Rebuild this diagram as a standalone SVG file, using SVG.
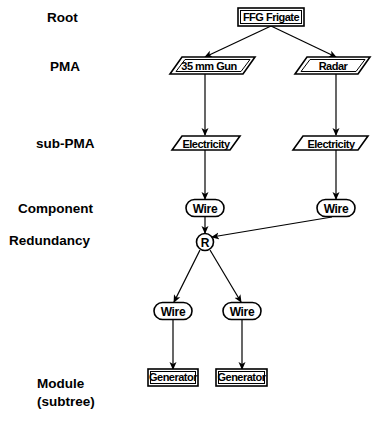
<svg xmlns="http://www.w3.org/2000/svg" width="387" height="421" viewBox="0 0 387 421">
<style>
.lbl{font-family:"Liberation Sans",Arial,sans-serif;font-weight:bold;font-size:13.5px;fill:#000}
.nt{font-family:"Liberation Sans",Arial,sans-serif;font-weight:bold;font-size:11px;fill:#000;text-anchor:middle;letter-spacing:-0.5px}
.big{font-size:12px;letter-spacing:-0.3px}
.sh{fill:#fff;stroke:#000;stroke-width:1.6}
.in{fill:none;stroke:#000;stroke-width:1}
.ln{fill:none;stroke:#000;stroke-width:1.2}
</style>
<defs>
<marker id="ah" markerWidth="8" markerHeight="8" refX="7" refY="4" orient="auto" markerUnits="userSpaceOnUse">
<path d="M0,0.5 L8,4 L0,7.5 L2,4 Z" fill="#000"/>
</marker>
</defs>
<rect width="387" height="421" fill="#fff"/>
<g id="levels">
<text class="lbl" x="47" y="22">Root</text>
<text class="lbl" x="50" y="71">PMA</text>
<text class="lbl" x="36" y="148">sub-PMA</text>
<text class="lbl" x="18" y="213">Component</text>
<text class="lbl" x="9" y="245">Redundancy</text>
<text class="lbl" x="37" y="388">Module</text>
<text class="lbl" x="37" y="406">(subtree)</text>
</g>
<g id="connectors">
<line class="ln" x1="271" y1="26" x2="205" y2="57" marker-end="url(#ah)"/>
<line class="ln" x1="271" y1="26" x2="336" y2="57" marker-end="url(#ah)"/>
<line class="ln" x1="205" y1="74" x2="205" y2="135" marker-end="url(#ah)"/>
<line class="ln" x1="336" y1="74" x2="336" y2="135" marker-end="url(#ah)"/>
<line class="ln" x1="205" y1="150" x2="205" y2="199" marker-end="url(#ah)"/>
<line class="ln" x1="336" y1="150" x2="336" y2="199" marker-end="url(#ah)"/>
<line class="ln" x1="205" y1="217" x2="205" y2="233" marker-end="url(#ah)"/>
<line class="ln" x1="332" y1="217" x2="212" y2="237" marker-end="url(#ah)"/>
<line class="ln" x1="200" y1="250" x2="174" y2="302" marker-end="url(#ah)"/>
<line class="ln" x1="210" y1="250" x2="241" y2="302" marker-end="url(#ah)"/>
<line class="ln" x1="173" y1="320" x2="173" y2="369" marker-end="url(#ah)"/>
<line class="ln" x1="242" y1="320" x2="242" y2="369" marker-end="url(#ah)"/>
</g>
<g id="root">
<rect class="sh" x="238" y="8" width="66" height="18"/>
<rect class="in" x="240.5" y="10.5" width="61" height="13"/>
<text class="nt" x="271" y="21">FFG Frigate</text>
</g>
<g id="pma-gun">
<polygon class="sh" points="182,57 255,57 243,74 170,74"/>
<polygon class="in" points="185,59.5 250,59.5 241,71.5 176,71.5"/>
<text class="nt" x="209" y="69.5">35 mm Gun</text>
</g>
<g id="pma-radar">
<polygon class="sh" points="307,57 370,57 358,74 295,74"/>
<polygon class="in" points="310,59.5 365,59.5 356,71.5 301,71.5"/>
<text class="nt" x="333" y="69.5">Radar</text>
</g>
<g id="sub-left">
<polygon class="sh" points="182,136 240,136 230,150 172,150"/>
<text class="nt" x="206" y="147.5">Electricity</text>
</g>
<g id="sub-right">
<polygon class="sh" points="303,136 368,136 358,150 293,150"/>
<text class="nt" x="331" y="147.5">Electricity</text>
</g>
<g id="wire-left">
<rect class="sh" x="186" y="199.5" width="38" height="17" rx="8.5"/>
<text class="nt big" x="205" y="212.5">Wire</text>
</g>
<g id="wire-right">
<rect class="sh" x="317" y="199.5" width="38" height="17" rx="8.5"/>
<text class="nt big" x="336" y="212.5">Wire</text>
</g>
<g id="redundancy">
<circle class="sh" cx="205" cy="242" r="8.5"/>
<text class="nt big" x="205" y="246.5">R</text>
</g>
<g id="wire-a">
<rect class="sh" x="154" y="302.5" width="38" height="17" rx="8.5"/>
<text class="nt big" x="173" y="315.5">Wire</text>
</g>
<g id="wire-b">
<rect class="sh" x="223" y="302.5" width="38" height="17" rx="8.5"/>
<text class="nt big" x="242" y="315.5">Wire</text>
</g>
<g id="gen-a">
<rect class="sh" x="148" y="369" width="50" height="17"/>
<rect class="in" x="150.5" y="371.5" width="45" height="12"/>
<text class="nt" x="173" y="381">Generator</text>
</g>
<g id="gen-b">
<rect class="sh" x="216" y="369" width="51" height="17"/>
<rect class="in" x="218.5" y="371.5" width="46" height="12"/>
<text class="nt" x="241.5" y="381">Generator</text>
</g>
</svg>
